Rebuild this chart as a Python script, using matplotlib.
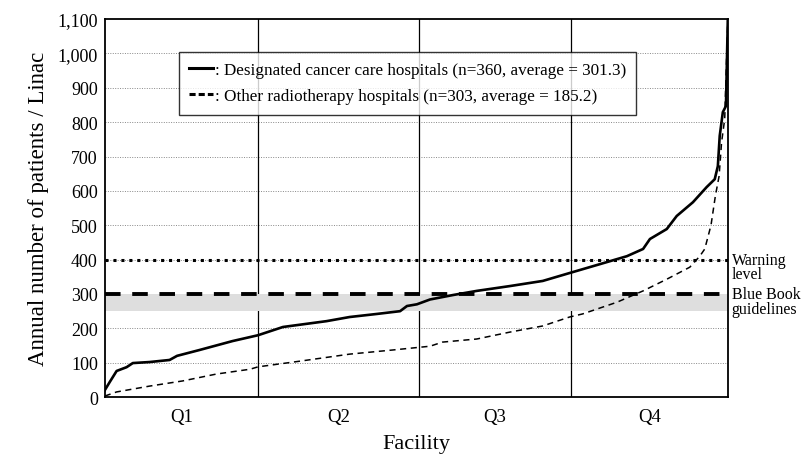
import matplotlib
matplotlib.use("Agg")
import matplotlib.pyplot as plt
from matplotlib.lines import Line2D

plt.rcParams['font.family'] = ['Liberation Serif', 'DejaVu Serif']

# facility rank as percentile (0-100) and annual patients per linac
desig_x = [0, 0.8, 1.9, 3.5, 4.5, 7.2, 10.4, 11.6, 15.2, 20.5, 24.6, 28.6, 35.6, 39.3,
           43.7, 47.4, 48.5, 50.1, 52.2, 55.9, 59.7, 65.0, 70.3, 74.6, 79.5, 83.8,
           86.4, 87.5, 90.2, 91.8, 94.4, 96.6, 97.9, 98.4, 98.7, 99.2, 99.7, 100]
desig_y = [20, 44, 76, 87, 99, 102, 108, 120, 137, 163, 180, 204, 221, 233,
           242, 250, 265, 270, 284, 297, 309, 323, 338, 361, 387, 410,
           431, 460, 489, 527, 567, 611, 634, 672, 760, 829, 847, 1100]

other_x = [0, 1.9, 7.2, 12.5, 17.9, 23.3, 24.6, 31.5, 39.3, 46.2, 52.2, 54.2, 59.7,
           65.0, 70.3, 74.6, 76.7, 82.2, 86.4, 90.2, 93.9, 95.5, 96.3, 97.3, 98.0,
           98.6, 99.0, 99.5, 100]
other_y = [3, 15, 32, 47, 67, 81, 88, 105, 125, 137, 148, 160, 169,
           189, 207, 233, 242, 276, 309, 343, 378, 410, 431, 500, 585,
           643, 742, 809, 1100]

quartiles = ["Q1", "Q2", "Q3", "Q4"]
q_bounds = [0, 24.6, 50.4, 74.8, 100]
warning_level = 400
blue_book = 300
blue_book_band = (250, 300)
labels = [": Designated cancer care hospitals (n=360, average = 301.3)",
          ": Other radiotherapy hospitals (n=303, average = 185.2)"]

fig = plt.figure(figsize=(8.06, 4.56), dpi=100)
ax = fig.add_axes([0.130, 0.127, 0.773, 0.829])

ax.set_xlim(0, 100)
ax.set_ylim(0, 1100)

# grid
for v in range(100, 1100, 100):
    ax.axhline(v, color='#888888', lw=0.7, ls=(0, (1, 1.5)), zorder=1)
for q in q_bounds[1:-1]:
    ax.axvline(q, color='black', lw=0.9, zorder=1)

ax.axhspan(blue_book_band[0], blue_book_band[1], color='#dedede', lw=0, zorder=1)
ax.axhline(warning_level, color='black', lw=2.2, ls=(0, (1, 1.6)), zorder=2)
ax.axhline(blue_book, color='black', lw=2.8, ls=(0, (4, 3)), zorder=2)

ax.plot(desig_x, desig_y, color='black', lw=1.9, zorder=3)
ax.plot(other_x, other_y, color='black', lw=1.1, ls=(0, (4, 3)), zorder=3)

ax.set_yticks(range(0, 1101, 100))
ax.set_yticklabels([f"{v:,}" for v in range(0, 1101, 100)], fontsize=13)
centers = [(a + b) / 2 for a, b in zip(q_bounds[:-1], q_bounds[1:])]
ax.set_xticks(centers)
ax.set_xticklabels(quartiles, fontsize=13.5)
ax.tick_params(axis='y', length=0, pad=5)
ax.tick_params(axis='x', length=0, pad=8)
ax.set_xlabel("Facility", fontsize=16, labelpad=6)
ax.set_ylabel("Annual number of patients / Linac", fontsize=16.5, labelpad=6)
for s in ax.spines.values():
    s.set_linewidth(1.3)

ax.text(1.006, warning_level + 22, "Warning\nlevel", transform=ax.get_yaxis_transform(),
        fontsize=11.5, va='top', ha='left', linespacing=0.85)
ax.text(1.006, blue_book + 22, "Blue Book\nguidelines", transform=ax.get_yaxis_transform(),
        fontsize=11.5, va='top', ha='left', linespacing=0.85)

handles = [Line2D([], [], color='black', lw=2.2),
           Line2D([], [], color='black', lw=2.2, ls=(0, (2, 1)))]
leg = ax.legend(handles, labels, loc='upper left', bbox_to_anchor=(0.119, 0.913),
                fontsize=12.3, handlelength=1.4, handletextpad=0.1, frameon=True,
                fancybox=False, edgecolor='black', borderpad=0.6, labelspacing=0.6,
                borderaxespad=0)
leg.get_frame().set_linewidth(1.0)

fig.savefig("out.png", dpi=100)
